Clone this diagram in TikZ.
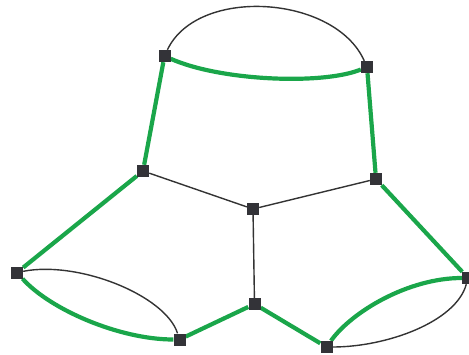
\documentclass[tikz,border=0pt]{standalone}
\usetikzlibrary{backgrounds}
\definecolor{nodegray}{HTML}{333338}
\definecolor{pathgreen}{HTML}{1AA64A}
\definecolor{edgegray}{HTML}{333333}
\tikzset{
  vtx/.style={rectangle, fill=nodegray, draw=none, minimum size=12pt, inner sep=0pt},
  thinedge/.style={draw=edgegray, line width=1.4pt},
  greenedge/.style={draw=pathgreen, line width=4.2pt}
}
\begin{document}
\begin{tikzpicture}[x=1pt,y=-1pt]
\useasboundingbox (0,0) rectangle (469,354);
\node[vtx] (A) at (164.5,56) {};
\node[vtx] (B) at (367,67) {};
\node[vtx] (C) at (143,171) {};
\node[vtx] (D) at (376,179) {};
\node[vtx] (E) at (253,209) {};
\node[vtx] (F) at (17,272.5) {};
\node[vtx] (G) at (468,278) {};
\node[vtx] (H) at (254.5,304) {};
\node[vtx] (I) at (179.5,339.5) {};
\node[vtx] (J) at (326.5,347) {};
\begin{scope}[on background layer]
  % thin edges
  \draw[thinedge] (A) .. controls +(33,-70) and +(-32,-72) .. (B);
  \draw[thinedge] (C) -- (E);
  \draw[thinedge] (D) -- (E);
  \draw[thinedge] (E) -- (H);
  \draw[thinedge] (F) .. controls +(62,-12) and +(-14,-44) .. (I);
  \draw[thinedge] (J) .. controls +(60,0) and +(-12,44) .. (G);
  % green edges
  \draw[greenedge] (A) .. controls +(56,25) and +(-44,18) .. (B);
  \draw[greenedge] (A) -- (C);
  \draw[greenedge] (B) -- (D);
  \draw[greenedge] (C) -- (F);
  \draw[greenedge] (D) -- (G);
  \draw[greenedge] (F) .. controls +(33,37) and +(-60,0) .. (I);
  \draw[greenedge] (I) -- (H);
  \draw[greenedge] (H) -- (J);
  \draw[greenedge] (J) .. controls +(25,-35) and +(-60,0) .. (G);
\end{scope}
\end{tikzpicture}
\end{document}
